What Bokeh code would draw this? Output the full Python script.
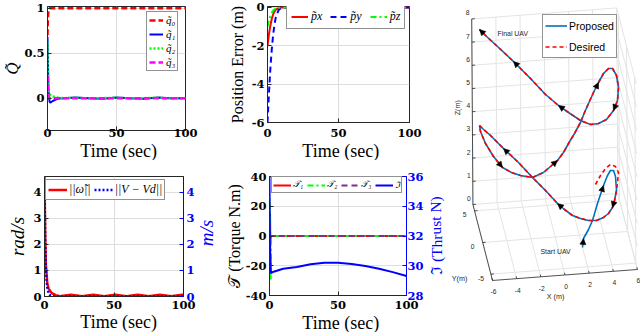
from bokeh.plotting import figure
from bokeh.models import (Range1d, LinearAxis, FixedTicker, Legend, LegendItem,
                          Arrow, NormalHead)
from bokeh.layouts import row, column
from bokeh.embed import file_html
from bokeh.resources import INLINE
from bokeh.core.properties import value

# ---------------- data ----------------
time_ticks = [0, 50, 100]
time_tick_labels = ["0", "50", "100"]

# (a) attitude error quaternion
q_t = [0, 0.3, 0.7, 1, 1.5, 2, 3, 4, 6, 8, 12, 20, 30, 40, 50, 60, 70, 80, 90, 100]
q0 = [0.70, 0.90, 0.97, 0.99, 1.0, 1.0, 1.0, 1.0, 1.0, 1.0, 1.0, 1.0, 1.0, 1.0, 1.0, 1.0, 1.0, 1.0, 1.0, 1.0]
q1 = [0.68, 0.40, 0.12, 0.02, -0.04, -0.05, -0.04, -0.03, -0.015, -0.005, 0.0, 0.008, 0.0, -0.006, 0.008, 0.0, -0.006, 0.008, 0.0, 0.0]
q2 = [0.62, 0.35, 0.12, 0.06, 0.04, 0.035, 0.03, 0.02, 0.01, 0.004, 0.0, 0.005, -0.005, 0.0, 0.005, -0.005, 0.0, 0.005, -0.005, 0.0]
q3 = [0.25, 0.12, 0.04, 0.01, 0.0, 0.0, 0.0, 0.0, 0.0, 0.0, 0.0, 0.0, 0.0, 0.0, 0.0, 0.0, 0.0, 0.0, 0.0, 0.0]
q_labels = ["q̃₀", "q̃₁", "q̃₂", "q̃₃"]
q_ticks = [0, 0.5, 1]
q_tick_labels = ["0", "0.5", "1"]

# (b) position error
p_t = [0, 1, 2, 3, 4, 5, 6, 8, 10, 20, 40, 60, 80, 100]
px = [-2.0, -1.4, -0.95, -0.6, -0.35, -0.2, -0.1, -0.03, 0, 0, 0, 0, 0, 0]
py = [-6.0, -4.5, -3.2, -2.2, -1.4, -0.85, -0.45, -0.12, -0.02, 0, 0, 0, 0, 0]
pz = [-1.0, -0.7, -0.45, -0.28, -0.16, -0.09, -0.05, -0.01, 0, 0, 0, 0, 0, 0]
p_labels = ["p̃x", "p̃y", "p̃z"]
p_ticks = [-6, -4, -2, 0]
p_tick_labels = ["-6", "-4", "-2", "0"]

# (c) angular-velocity and velocity error norms
w_t = [0, 0.5, 1, 2, 3, 5, 8, 11, 19, 27, 35, 43, 51, 59, 67, 75, 83, 91, 99, 100]
w_norm = [4.6, 2.4, 1.2, 0.5, 0.3, 0.14, 0.05, 0.01, 0.07, 0.01, 0.07, 0.01, 0.07, 0.01, 0.07, 0.01, 0.07, 0.01, 0.07, 0.07]
v_t = [0, 0.5, 1, 2, 3, 4, 6, 8, 100]
v_norm = [4.2, 2.0, 1.0, 0.35, 0.12, 0.05, 0.01, 0.0, 0.0]
c_labels = ["||ω̃||", "||V − Vd||"]
c_ticks = [0, 1, 2, 3, 4]
c_tick_labels = ["0", "1", "2", "3", "4"]

# (d) torques and thrust
tau_t = [0, 0.2, 0.4, 0.6, 0.8, 1, 1.5, 2, 100]
tau1 = [0, 12, 15, -5, -2, 0, 0, 0, 0]
tau2 = [0, 25, 10, -20, -30, -5, 0, 0, 0]
tau3 = [0, 3, 1, -1, 0, 0, 0, 0, 0]
thr_t = [0, 0.3, 1, 3, 10, 20, 30, 40, 45, 50, 60, 70, 80, 90, 100]
thrust = [36, 31.5, 29.5, 29.6, 29.8, 29.92, 30.1, 30.2, 30.21, 30.2, 30.12, 29.98, 29.8, 29.57, 29.31]
d_labels = ["𝒯₁", "𝒯₂", "𝒯₃", "ℑ"]
tq_ticks = [-40, -20, 0, 20, 40]
tq_tick_labels = ["-40", "-20", "0", "20", "40"]
th_ticks = [28, 30, 32, 34, 36]
th_tick_labels = ["28", "30", "32", "34", "36"]

# (e) 3-D trajectory (projected view coordinates)
traj_x = [582, 583, 588, 592, 597, 603, 607, 610, 613, 615, 616, 614, 612, 608, 603, 596,
          588, 580, 572, 564, 557, 545, 532, 518, 503, 490, 482, 479, 480, 485, 493, 502,
          511, 520, 532, 543, 550, 557, 563, 568, 574, 580, 584, 588, 593, 598, 603, 608,
          612, 616, 618, 617, 613, 606, 598, 590, 580, 568, 558, 545, 530, 513, 497, 485, 479]
traj_y = [247, 238, 229, 220, 203, 185, 175, 170, 170, 176, 190, 200, 207, 213, 217, 220,
          220, 218, 215, 209, 203, 190, 177, 162, 148, 135, 128, 125, 131, 143, 156, 167,
          172, 175, 177, 172, 166, 160, 152, 143, 133, 122, 112, 103, 92, 82, 73, 68,
          68, 75, 87, 100, 110, 119, 123, 124, 120, 112, 105, 94, 78, 61, 46, 35, 29]
des_start_x = [595, 600, 605, 610, 615, 618, 617]
des_start_y = [184, 175, 168, 164, 166, 172, 182]
des_join = 10
arrow_idx = [1, 5, 12, 20, 24, 31, 37, 45, 52, 58, 61, 64]
x3_ticks = [-6, -4, -2, 0, 2, 4, 6]
y3_ticks = [-5, 0, 5]
z3_ticks = [0, 1, 2, 3, 4, 5, 6, 7, 8]
x3_lim = (-6, 6)
y3_lim = (-6, 6)
z3_lim = (0, 8)

# ---------------- styling ----------------
AX = "#262626"
GRID = "#dedede"
SERIF = "Liberation Serif"
TICKF = "DejaVu Serif"
BLUE = "#0000FF"
VERT = 1.5708


def style_axis(ax, color="black"):
    ax.axis_line_color = AX
    ax.major_tick_line_color = AX
    ax.major_tick_in = 4
    ax.major_tick_out = 0
    ax.minor_tick_line_color = None
    ax.major_label_text_font = TICKF
    ax.major_label_text_font_style = "bold"
    ax.major_label_text_font_size = "11.5px"
    ax.major_label_text_color = color
    ax.major_label_standoff = 3
    ax.axis_label_text_font = SERIF
    ax.axis_label_text_font_size = "16px"
    ax.axis_label_text_font_style = "normal"
    ax.axis_label_text_color = color
    ax.axis_label_standoff = 2


def panel(w, h, bl, br, bt, bb, yr, yticks, ylabels, ylabel):
    p = figure(width=w, height=h, output_backend="svg", toolbar_location=None,
               x_range=Range1d(0, 100), y_range=Range1d(*yr),
               min_border_left=bl, min_border_right=br,
               min_border_top=bt, min_border_bottom=bb)
    p.outline_line_color = AX
    p.background_fill_color = "white"
    p.border_fill_color = "white"
    p.xaxis.ticker = FixedTicker(ticks=time_ticks)
    p.xaxis.major_label_overrides = dict(zip(time_ticks, time_tick_labels))
    p.yaxis.ticker = FixedTicker(ticks=yticks)
    p.yaxis.major_label_overrides = dict(zip(yticks, ylabels))
    p.yaxis.axis_label = ylabel
    for ax in p.axis:
        style_axis(ax)
    p.grid.grid_line_color = GRID
    return p


def strip(w, h, x, y, text, size, style="normal", color="black", angle=0.0):
    # a small text-only panel of the layout (holds an axis title)
    s = figure(width=w, height=h, output_backend="svg", toolbar_location=None,
               x_range=Range1d(0, w), y_range=Range1d(h, 0), min_border=0,
               x_axis_location=None, y_axis_location=None)
    s.grid.visible = False
    s.outline_line_color = None
    s.text([x], [y], text=[text], angle=angle, text_align="center", text_baseline="middle",
           text_font=value(SERIF), text_font_size=value(size), text_font_style=style,
           text_color=color)
    return s


def add_legend(p, labels, rends, loc, orient, fsize, gw, gh, spacing, padding,
               standoff=3, font=SERIF, fstyle="italic"):
    leg = Legend(items=[LegendItem(label=l, renderers=[r]) for l, r in zip(labels, rends)],
                 location=loc, orientation=orient)
    leg.label_text_font = font
    leg.label_text_font_style = fstyle
    leg.label_text_font_size = fsize
    leg.label_text_color = "black"
    leg.glyph_width = gw
    leg.glyph_height = gh
    leg.label_height = gh
    leg.label_width = 0
    leg.spacing = spacing
    leg.padding = padding
    leg.label_standoff = standoff
    leg.margin = 0
    leg.border_line_color = AX
    leg.border_line_width = 1
    leg.background_fill_color = "white"
    leg.background_fill_alpha = 1
    p.add_layout(leg)
    return leg


def right_axis(p, rname, ticks, labels):
    ax = LinearAxis(y_range_name=rname, ticker=FixedTicker(ticks=ticks),
                    major_label_overrides=dict(zip(ticks, labels)))
    style_axis(ax, BLUE)
    ax.axis_line_color = BLUE
    ax.major_tick_line_color = BLUE
    p.add_layout(ax, "right")
    return ax


# (a)
p1 = panel(222, 141, 44, 37, 6, 11, (-0.36, 1.02), q_ticks, q_tick_labels, "Q̃")
p1.yaxis.axis_label_text_font_style = "italic"
p1.yaxis.axis_label_text_font_size = "17px"
p1.yaxis.axis_label_standoff = -1
p1.xaxis.major_label_standoff = -2
r0 = p1.line(q_t, q0, color="#FF0000", line_width=2.5, line_dash="6 3")
r1 = p1.line(q_t, q1, color="#0000FF", line_width=2)
r2 = p1.line(q_t, q2, color="#00FF00", line_width=2.5, line_dash="2 2")
r3 = p1.line(q_t, q3, color="#FF00FF", line_width=2.5, line_dash="6 3")
add_legend(p1, q_labels, [r0, r1, r2, r3], (99, 59), "vertical", "11px", 14, 12, 2, 2)
s1 = strip(222, 19, 114.5, 9, "Time (sec)", "18px")

# (b)
p2 = panel(225, 141, 45, 38, 6, 19, (-6, 0.05), p_ticks, p_tick_labels, "Position Error (m)")
p2.yaxis.axis_label_standoff = 3
p2.xaxis.major_label_standoff = 6
rx = p2.line(p_t, px, color="#FF0000", line_width=2)
ry = p2.line(p_t, py, color="#0000FF", line_width=2, line_dash="6 4")
rz = p2.line(p_t, pz, color="#00FF00", line_width=2, line_dash="6 3 2 3")
add_legend(p2, p_labels, [rx, ry, rz], (19, 93), "horizontal", "12px", 17, 11, 8, 4)
s2 = strip(225, 19, 116, 9.5, "Time (sec)", "18px")

# (c)
p3 = panel(197, 153, 44, 12, 16, 17, (0, 4.6), c_ticks, c_tick_labels, "rad/s")
p3.yaxis.axis_label_text_font_style = "italic"
p3.yaxis.axis_label_text_font_size = "19px"
p3.extra_y_ranges = {"r": Range1d(0, 4.6)}
right_axis(p3, "r", c_ticks, c_tick_labels)
p3.xaxis.major_label_standoff = 4
rw = p3.line(w_t, w_norm, color="#FF0000", line_width=2.5)
rv = p3.line(v_t, v_norm, color="#0000FF", line_width=2.5, line_dash="2 2", y_range_name="r")
add_legend(p3, c_labels, [rw, rv], (1, 96), "horizontal", "12px", 19, 13, 3, 2, standoff=2)
sr3 = strip(25, 153, 9, 72, "m/s", "19px", "italic", BLUE, VERT)
s3 = strip(222, 19, 114.5, 8.5, "Time (sec)", "18px")

# (d)
p4 = panel(204, 153, 45, 17, 16, 18, (-40, 40), tq_ticks, tq_tick_labels, "𝒯 (Torque N.m)")
p4.yaxis.axis_label_standoff = 0
p4.extra_y_ranges = {"t": Range1d(28, 36)}
ax4r = right_axis(p4, "t", th_ticks, th_tick_labels)
ax4r.major_label_standoff = 1
p4.xaxis.major_label_standoff = 5
rt1 = p4.line(tau_t, tau1, color="#FF0000", line_width=2)
rt2 = p4.line(tau_t, tau2, color="#00FF00", line_width=2, line_dash="6 3 2 3")
rt3 = p4.line(tau_t, tau3, color="#7E2F8E", line_width=2, line_dash="6 4")
rth = p4.line(thr_t, thrust, color="#0000FF", line_width=2, y_range_name="t")
add_legend(p4, d_labels, [rt1, rt2, rt3, rth], (2, 102), "horizontal", "9px", 18, 8, 4, 1, standoff=2)
sr4 = strip(21, 153, 9.5, 76, "ℑ (Thrust N)", "15.5px", "normal", BLUE, VERT)
s4 = strip(225, 19, 116, 9, "Time (sec)", "18px")

# (e) 3-D trajectory view
O3 = (554.7, 236.5)
EX = (12.08, -0.917)
EY = (-1.633, -6.33)
EZ = (-0.15, -23.2)


def proj(x, y, z):
    return (O3[0] + x * EX[0] + y * EY[0] + z * EZ[0],
            O3[1] + x * EX[1] + y * EY[1] + z * EZ[1])


p5 = figure(width=193, height=332, output_backend="svg", toolbar_location=None,
            x_range=Range1d(447, 640), y_range=Range1d(332, 0),
            x_axis_location=None, y_axis_location=None, min_border=0)
p5.grid.visible = False
p5.outline_line_color = None

x0, x1 = x3_lim
y0, y1 = y3_lim
z0, z1 = z3_lim
gx, gy = [], []


def seg(a, b, xs, ys):
    pa, pb = proj(*a), proj(*b)
    xs.append([pa[0], pb[0]])
    ys.append([pa[1], pb[1]])


for x in x3_ticks:
    seg((x, y0, z0), (x, y1, z0), gx, gy)
    seg((x, y1, z0), (x, y1, z1), gx, gy)
for y in y3_ticks:
    seg((x0, y, z0), (x1, y, z0), gx, gy)
    seg((x1, y, z0), (x1, y, z1), gx, gy)
for z in z3_ticks:
    seg((x0, y1, z), (x1, y1, z), gx, gy)
    seg((x1, y0, z), (x1, y1, z), gx, gy)
p5.multi_line(gx, gy, line_color="#e4e4e4", line_width=1)

axx, axy = [], []
seg((x0, y0, z0), (x1, y0, z0), axx, axy)
seg((x0, y0, z0), (x0, y1, z0), axx, axy)
seg((x0, y1, z0), (x0, y1, z1), axx, axy)
for x in x3_ticks:
    seg((x, y0, z0), (x, y0 + 0.35, z0), axx, axy)
for y in y3_ticks:
    seg((x0, y, z0), (x0 + 0.25, y, z0), axx, axy)
for z in z3_ticks:
    seg((x0, y1, z), (x0 + 0.25, y1, z), axx, axy)
p5.multi_line(axx, axy, line_color=AX, line_width=0.8)

SANS = "Liberation Sans"
tfs = value("6.7px")
lx = [proj(x, y0, z0)[0] + 1 for x in x3_ticks]
ly = [proj(x, y0, z0)[1] + 11.5 for x in x3_ticks]
p5.text(lx, ly, text=[str(v) for v in x3_ticks], text_font=value(SANS), text_font_size=tfs,
        text_align="center", text_baseline="middle", text_color=AX)
lx = [proj(x0, y, z0)[0] - 10 for y in y3_ticks]
ly = [proj(x0, y, z0)[1] + 4 for y in y3_ticks]
p5.text(lx, ly, text=[str(v) for v in y3_ticks], text_font=value(SANS), text_font_size=tfs,
        text_align="center", text_baseline="middle", text_color=AX)
lx = [proj(x0, y1, z)[0] - 4 for z in z3_ticks]
ly = [proj(x0, y1, z)[1] - 6 for z in z3_ticks]
p5.text(lx, ly, text=[str(v) for v in z3_ticks], text_font=value(SANS), text_font_size=tfs,
        text_align="center", text_baseline="middle", text_color=AX)
xm = proj(0, y0, z0)
p5.text([xm[0] - 9.5], [xm[1] + 21.5], text=["X (m)"], text_font=value(SANS),
        text_font_size=value("7.2px"), text_align="center", text_baseline="middle", text_color=AX)
ym = proj(x0, y0, z0)
p5.text([ym[0] - 33], [ym[1] - 2], text=["Y(m)"], text_font=value(SANS),
        text_font_size=value("7.2px"), text_align="center", text_baseline="middle", text_color=AX)
zm = proj(x0, y1, 4)
p5.text([zm[0] - 15], [zm[1] - 4], text=["Z(m)"], text_font=value(SANS), angle=VERT,
        text_font_size=value("7.2px"), text_align="center", text_baseline="middle", text_color=AX)

des_x = des_start_x + traj_x[des_join:]
des_y = des_start_y + traj_y[des_join:]
r_prop = p5.line(traj_x, traj_y, color="#0072BD", line_width=1.6)
r_des = p5.line(des_x, des_y, color="#FF0000", line_width=1.6, line_dash="4 3")
for i in arrow_idx:
    p5.add_layout(Arrow(end=NormalHead(size=6, fill_color="black", line_color="black", line_width=0.5),
                        x_start=traj_x[i - 1], y_start=traj_y[i - 1],
                        x_end=traj_x[i], y_end=traj_y[i], line_alpha=0, line_width=0))

p5.text([traj_x[-1] + 18], [traj_y[-1] + 4], text=["Final UAV"], text_font=value(SANS),
        text_font_size=value("6.9px"), text_align="left", text_baseline="middle", text_color=AX)
p5.text([traj_x[0] - 42], [traj_y[0] + 4], text=["Start UAV"], text_font=value(SANS),
        text_font_size=value("6.9px"), text_align="left", text_baseline="middle", text_color=AX)

add_legend(p5, ["Proposed", "Desired"], [r_prop, r_des], (95, 274), "vertical", "10.5px",
           22, 17, 4, 2, standoff=2, font=SANS, fstyle="normal")

col1 = column(p1, s1, row(p3, sr3), s3)
col2 = column(p2, s2, row(p4, sr4), s4)
layout = row(col1, col2, p5)
open("out.html", "w").write(file_html(layout, INLINE))
